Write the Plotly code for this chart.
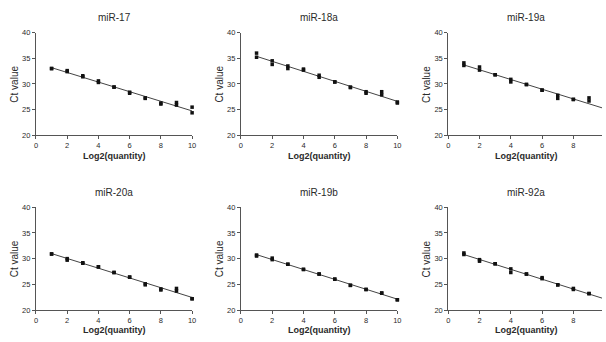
import numpy as np
import plotly.graph_objects as go

titles = ["miR-17", "miR-18a", "miR-19a", "miR-20a", "miR-19b", "miR-92a"]

quantity = [1, 2, 3, 4, 5, 6, 7, 8, 9, 10]

# Ct replicate values (two replicates per dilution)
ct_rep1 = {
    "miR-17":  [33.0, 32.6, 31.6, 30.6, 29.4, 28.4, 27.3, 26.3, 26.4, 25.5],
    "miR-18a": [36.0, 34.5, 33.5, 32.9, 31.7, 30.4, 29.4, 28.5, 28.5, 26.5],
    "miR-19a": [34.1, 33.3, 31.8, 30.9, 29.9, 28.8, 27.8, 27.0, 27.3, 25.1],
    "miR-20a": [30.9, 30.0, 29.2, 28.4, 27.3, 26.4, 25.1, 24.1, 24.2, 22.2],
    "miR-19b": [30.7, 30.1, 28.9, 27.9, 27.0, 26.0, 24.8, 24.0, 23.3, 22.0],
    "miR-92a": [31.1, 29.8, 29.0, 28.0, 27.0, 26.3, 24.9, 24.2, 23.2, 22.1],
}
ct_rep2 = {
    "miR-17":  [33.0, 32.4, 31.4, 30.3, 29.4, 28.2, 27.2, 26.1, 25.9, 24.4],
    "miR-18a": [35.2, 33.8, 33.0, 32.7, 31.3, 30.4, 29.3, 28.2, 27.9, 26.3],
    "miR-19a": [33.6, 32.7, 31.8, 30.4, 29.9, 28.8, 27.2, 27.0, 26.7, 25.0],
    "miR-20a": [30.9, 29.7, 29.1, 28.4, 27.3, 26.4, 24.9, 23.9, 23.7, 22.2],
    "miR-19b": [30.5, 29.8, 28.9, 27.9, 27.0, 26.0, 24.8, 24.0, 23.3, 22.0],
    "miR-92a": [30.8, 29.5, 29.0, 27.3, 27.0, 26.1, 24.9, 24.0, 23.2, 22.1],
}

x_ticks = [0, 2, 4, 6, 8, 10]
y_ticks = [20, 25, 30, 35, 40]

W, H = 606, 342
col_px = [(34.3, 192.0, 10.0), (241.3, 399.3, 10.0), (450.7, 606.0, 9.83)]
row_px = [(29.3, 135.0), (208.7, 314.3)]

FONT = "Arial, Liberation Sans, sans-serif"
TXT = "#2a2a2a"

fig = go.Figure()
annotations = []
for i, name in enumerate(titles):
    r, c = divmod(i, 3)
    x0, x1, xmax = col_px[c]
    y0, y1 = row_px[r]
    xa = "x" if i == 0 else f"x{i+1}"
    ya = "y" if i == 0 else f"y{i+1}"
    xd = [x0 / W, min(x1 / W, 1.0)]
    yd = [1 - y1 / H, 1 - y0 / H]

    xs = np.array(quantity + quantity, dtype=float)
    ys = np.array(ct_rep1[name] + ct_rep2[name], dtype=float)
    slope, icpt = np.polyfit(xs, ys, 1)
    lx = np.array([1.0, 10.0])
    fig.add_trace(go.Scatter(x=lx, y=slope * lx + icpt, mode="lines",
                             line=dict(color="#444444", width=1),
                             xaxis=xa, yaxis=ya, showlegend=False, hoverinfo="skip"))
    fig.add_trace(go.Scatter(x=xs, y=ys, mode="markers",
                             marker=dict(symbol="square", size=3.5, color="#111111"),
                             xaxis=xa, yaxis=ya, showlegend=False,
                             cliponaxis=(xmax >= 10)))

    axcommon = dict(showgrid=False, zeroline=False, showline=True, linecolor="#555555",
                    linewidth=1, ticks="outside", ticklen=3, tickcolor="#555555",
                    tickfont=dict(family=FONT, size=7.5, color=TXT))
    fig.update_layout(**{
        ("xaxis" if i == 0 else f"xaxis{i+1}"): dict(
            domain=xd, range=[0, xmax], tickvals=[t for t in x_ticks if t <= xmax],
            anchor=ya, **axcommon),
        ("yaxis" if i == 0 else f"yaxis{i+1}"): dict(
            domain=yd, range=[20, 40], tickvals=y_ticks, anchor=xa, **axcommon),
    })
    cx = (x0 + x0 + 158.0) / 2 / W
    annotations.append(dict(text=name, x=cx, y=1 - (y0 - 15.5) / H, xref="paper", yref="paper",
                            showarrow=False, font=dict(family=FONT, size=10, color=TXT),
                            xanchor="center", yanchor="middle"))
    annotations.append(dict(text="<b>Log2(quantity)</b>", x=cx, y=1 - (y1 + 21.0) / H,
                            xref="paper", yref="paper", showarrow=False,
                            font=dict(family=FONT, size=9, color=TXT),
                            xanchor="center", yanchor="middle"))
    annotations.append(dict(text="Ct value", x=(x0 - 21.5) / W, y=1 - ((y0 + y1) / 2) / H,
                            xref="paper", yref="paper", showarrow=False, textangle=-90,
                            font=dict(family=FONT, size=10, color=TXT),
                            xanchor="center", yanchor="middle"))

fig.update_layout(width=W, height=H, margin=dict(l=0, r=0, t=0, b=0),
                  paper_bgcolor="white", plot_bgcolor="white",
                  annotations=annotations, showlegend=False)

# Show the x=10 markers uncut in the two full-width columns
for k, tr in enumerate(fig.data):
    if tr.mode == "markers" and tr.xaxis in ("x", "x2", "x4", "x5"):
        tr.cliponaxis = False

fig.write_html("out.html", config={"displayModeBar": False},
               post_script="document.body.style.margin='0';document.body.style.overflow='hidden';")
